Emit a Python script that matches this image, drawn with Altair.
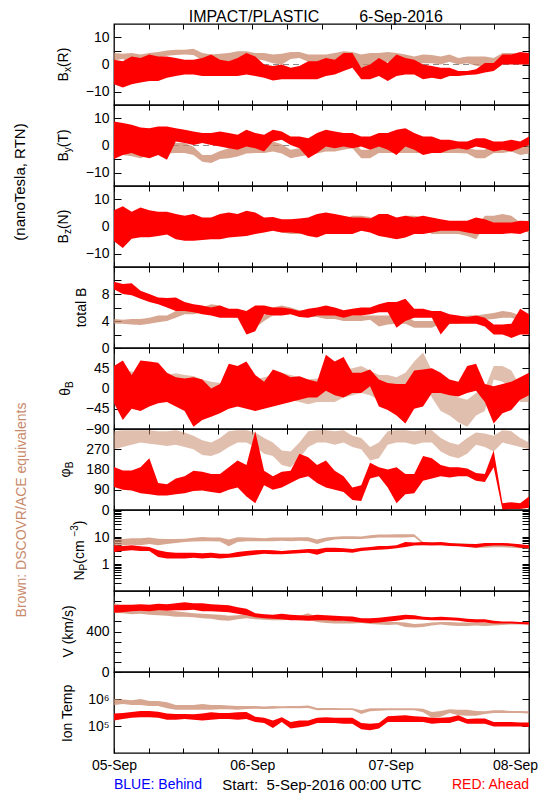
import altair as alt
import pandas as pd

# ---------------- data (per 1.5-hour bin: low / high envelope) ----------------
N_BINS = 48
HOURS = 72

bx_red_lo = [-7.3,-8.5,-7.3,-6.7,-6.1,-6.1,-4.9,-4.3,-3.7,-3.7,-4.3,-4.3,-4.3,-4.3,-4.3,-3.7,-4.3,-4.9,-5.9,-5.5,-5.5,-5.5,-5.5,-5.5,-4.3,-3.7,-2.4,-1.2,-5.5,-5.5,-4.3,-6.1,-4.3,-3.7,-3.7,-5.5,-4.9,-5.5,-4.3,-4.3,-3.9,-3.7,-3.0,-2.4,0.0,0.0,0.0,0.0]
bx_red_hi = [1.8,1.2,3.0,2.4,3.7,3.0,3.0,2.4,1.8,1.8,2.4,3.7,1.8,1.2,2.4,4.3,3.0,0.0,-0.6,0.0,-1.2,-0.6,1.2,1.2,2.4,1.8,4.3,4.3,-1.2,0.0,2.4,0.6,3.7,2.4,1.8,0.0,-0.6,-1.2,-1.2,-2.4,-2.4,-1.8,0.6,0.6,3.7,3.7,4.6,4.3]
bx_br_lo = [1.5,2.0,0.5,0.0,1.0,2.5,3.2,3.5,3.7,3.5,1.5,0.0,0.5,1.0,2.0,2.4,2.0,1.5,0.5,0.0,2.0,2.4,1.0,-0.5,0.0,1.5,2.4,2.4,-1.0,-2.0,0.0,1.0,0.5,0.0,0.0,0.5,0.5,0.0,1.0,0.0,0.5,-0.5,-1.0,0.0,2.4,2.4,1.5,0.5]
bx_br_hi = [4.3,4.0,4.3,3.7,4.3,4.6,5.2,5.5,5.5,5.8,4.3,3.7,4.0,4.3,4.9,4.9,4.3,4.3,3.7,4.0,4.6,4.6,3.7,3.7,3.7,4.3,4.9,4.6,3.7,4.3,4.3,4.6,4.3,3.7,3.0,3.7,3.5,3.0,3.7,2.4,3.0,3.0,3.0,2.4,4.3,4.3,4.0,3.0]

by_red_lo = [-5.0,-3.5,-2.8,-4.0,-4.7,-3.5,-5.3,1.5,0.9,0.2,0.9,0.2,-0.4,-1.0,-1.6,-0.4,-1.0,-2.2,1.5,2.1,0.2,-1.0,-4.7,-2.8,-0.4,-1.0,-0.4,-1.0,-0.4,-1.6,-0.4,-1.6,-3.5,-0.4,-1.6,-3.5,-2.8,-2.8,-1.6,-1.0,-1.6,-0.4,-1.0,-2.2,-1.6,-2.2,-1.0,0.2]
by_red_hi = [8.9,8.3,7.7,6.7,6.4,7.0,7.0,6.4,5.8,5.2,4.6,4.6,5.2,4.6,4.0,5.8,4.6,4.0,5.8,5.2,3.3,3.3,2.7,4.6,5.8,5.2,4.6,4.6,3.3,3.3,4.6,4.6,5.8,6.4,4.6,3.3,3.3,2.1,2.1,1.5,1.5,2.7,2.7,1.5,1.5,2.1,1.5,3.3]
by_br_lo = [-3.5,-3.5,-4.0,-4.7,-3.5,-3.0,-3.0,-2.8,-2.8,-3.5,-6.0,-6.5,-5.0,-4.7,-4.1,-3.0,-2.8,-2.8,-2.2,-3.0,-4.7,-4.1,-3.5,-3.0,-2.2,-2.2,-1.6,-1.0,-4.7,-4.7,-2.8,-2.8,-2.8,-2.8,-2.8,-2.8,-2.8,-2.8,-2.8,-2.8,-3.0,-4.7,-4.7,-2.8,-2.8,-2.2,-3.5,-3.0]
by_br_hi = [0.2,0.5,1.0,1.5,0.5,0.2,0.2,0.9,0.9,-0.5,-3.5,-3.5,-2.0,-1.0,-1.0,0.2,0.5,1.0,1.5,0.5,-1.6,-1.0,-1.0,-0.5,0.5,0.9,1.2,1.5,-1.6,-1.6,0.2,0.2,0.5,0.2,0.2,-0.4,-0.4,-0.4,-0.4,-0.4,-1.0,-1.6,-1.6,0.2,0.2,0.2,-1.0,0.0]

bz_red_lo = [-5.5,-8.0,-4.5,-4.0,-4.0,-3.5,-3.0,-4.7,-5.3,-5.3,-5.0,-4.7,-4.7,-4.1,-3.8,-3.5,-2.8,-2.2,-1.6,-2.2,-2.2,-2.5,-3.5,-4.1,-2.8,-2.8,-2.8,-2.8,-1.6,-2.2,-3.5,-4.1,-4.7,-4.1,-2.8,-2.8,-2.2,-1.6,-1.6,-1.6,-2.2,-2.8,-2.8,-2.8,-2.8,-2.5,-2.8,-1.6]
bz_red_hi = [6.0,7.5,5.5,7.0,6.0,5.5,5.5,4.6,4.0,4.6,3.3,3.3,4.6,5.2,4.6,5.8,5.2,3.3,3.5,2.7,2.7,3.0,3.3,4.6,5.2,4.6,4.0,3.3,3.3,3.0,4.6,4.6,3.3,4.0,3.3,4.0,3.3,2.7,2.1,2.1,2.1,3.3,2.7,1.5,1.5,1.5,2.1,2.0]
bz_br_lo = [-2.0,-2.2,-2.0,-1.5,-1.6,-1.0,-0.5,-0.4,-0.4,-0.4,-0.8,-1.6,-1.6,-1.6,-1.0,-1.0,-0.5,-0.8,-1.6,-2.2,-2.8,-2.8,-2.2,-1.6,-1.6,-1.6,-0.5,0.2,0.2,0.2,-2.8,-2.8,-2.5,0.2,0.2,-0.5,-2.8,-2.8,-2.8,-2.8,-3.5,-4.7,0.2,0.2,0.2,0.2,-1.6,-2.2]
bz_br_hi = [2.0,1.5,2.0,1.5,2.7,3.0,3.5,4.0,4.0,3.5,3.0,2.1,2.1,1.5,2.1,3.3,3.3,2.7,2.1,1.0,0.9,0.9,1.5,2.1,2.1,2.1,2.7,4.0,4.0,3.5,0.9,0.9,0.5,4.0,4.0,3.3,0.9,0.9,0.5,0.9,-0.2,-0.4,4.0,4.0,4.6,4.0,1.5,1.0]

bt_red_lo = [8.7,8.0,7.8,7.3,6.8,6.5,6.0,5.5,5.5,5.3,5.0,4.8,4.5,4.5,4.5,2.0,2.5,5.0,4.8,4.8,5.0,4.6,4.5,4.8,4.8,4.8,4.5,4.8,4.8,5.0,5.3,5.3,3.0,4.0,4.5,4.5,4.5,2.0,3.6,3.6,3.6,3.6,3.2,2.0,2.0,1.5,2.0,2.0]
bt_red_hi = [9.8,9.5,9.6,8.5,8.0,7.5,7.4,7.5,6.8,6.5,6.3,6.0,6.3,5.8,5.8,5.5,6.3,6.3,6.0,6.0,5.8,5.5,5.8,6.0,6.3,6.0,5.6,5.8,6.0,6.0,6.5,6.8,6.8,7.3,5.8,5.8,5.5,5.5,5.0,4.8,4.6,4.8,4.5,3.5,3.5,3.6,5.8,5.0]
bt_br_lo = [3.6,3.6,3.5,3.4,3.6,3.8,4.0,4.5,5.0,5.0,5.3,5.5,5.5,4.6,4.5,4.3,3.0,4.0,4.8,5.3,5.3,4.8,4.6,4.6,4.3,4.3,4.0,4.0,4.0,4.2,3.2,3.5,3.6,3.6,3.0,3.0,3.0,3.6,3.6,3.6,4.0,4.0,4.2,4.3,4.5,4.5,4.0,4.0]
bt_br_hi = [4.3,4.2,4.3,4.3,4.5,4.8,4.8,5.5,5.8,5.8,6.0,6.5,6.3,5.6,5.5,5.0,4.8,4.8,6.0,6.3,6.0,5.6,5.5,5.5,5.0,5.0,4.8,4.8,4.8,4.8,4.8,4.8,4.8,4.8,4.0,4.0,4.0,4.5,4.6,4.6,4.8,4.8,5.0,5.2,5.5,5.3,4.8,4.8]

th_red_lo = [-33,-70,-45,-50,-40,-33,-30,-40,-50,-85,-70,-63,-55,-45,-40,-45,-50,-45,-40,-35,-30,-25,-20,-20,-5,-15,-20,-10,-10,5,-40,-48,-60,-78,-45,-40,-10,-10,-15,-18,-10,-5,-30,-78,-55,-48,-25,-15]
th_red_hi = [50,62,30,62,60,57,35,25,22,25,20,0,10,55,50,60,30,15,42,35,25,27,20,15,75,60,70,35,35,42,20,12,10,10,40,42,45,35,20,15,50,55,10,5,10,15,25,35]
th_br_lo = [-18,-15,-10,-8,-10,-12,-15,-20,-25,-25,-30,-35,-40,-40,-30,-25,-18,-20,-25,-25,-25,-30,-35,-30,-30,-30,-20,-15,-10,-15,-25,-25,-25,-20,10,20,-20,-50,-60,-75,-85,-60,-50,20,15,5,-30,-30]
th_br_hi = [42,40,38,35,34,35,30,34,30,28,20,15,12,10,15,20,20,25,30,35,30,25,20,22,25,20,40,45,50,40,30,30,25,35,60,80,40,0,-10,-20,-25,-10,0,50,50,40,5,10]

ph_red_lo = [102,90,87,75,70,65,65,70,75,85,87,80,75,90,100,60,30,110,90,100,120,140,150,120,100,90,80,45,40,140,150,100,30,70,75,130,140,150,145,150,150,130,125,190,0,5,5,10]
ph_red_hi = [191,176,176,190,230,120,115,140,150,175,170,160,160,190,220,200,350,175,150,170,175,250,235,200,220,175,150,100,110,210,190,180,190,160,160,240,230,200,190,190,185,165,160,265,30,35,30,60]
ph_br_lo = [270,280,290,300,295,290,285,290,280,270,245,240,255,280,300,300,280,250,240,200,190,230,280,300,300,290,300,280,270,220,230,290,300,300,290,300,300,260,240,230,250,290,280,260,300,290,280,270]
ph_br_hi = [350,355,355,355,355,350,350,355,345,330,310,300,320,350,355,355,345,320,300,265,260,300,350,355,355,350,355,330,320,280,300,350,355,355,350,355,355,320,300,290,320,345,340,330,355,350,320,300]

np_red_lo = [2.8,3.0,3.2,3.0,3.0,1.8,1.6,1.6,1.6,1.7,1.6,1.7,1.6,1.7,1.8,2.0,2.2,2.4,2.3,2.3,2.4,2.5,2.6,2.2,2.8,2.8,2.8,2.6,3.0,3.2,3.4,3.5,3.8,4.3,4.8,5.0,4.8,5.0,4.6,4.5,4.3,4.0,4.5,4.8,4.8,4.6,4.0,3.8]
np_red_hi = [4.9,4.6,4.9,4.5,4.3,3.2,2.8,2.6,2.6,2.6,2.5,2.6,2.4,2.4,2.8,3.0,3.2,3.3,3.2,3.0,3.2,3.4,3.6,3.5,4.0,4.0,3.8,3.6,4.0,4.3,4.6,4.6,5.0,6.5,6.2,6.5,6.3,6.5,6.0,5.6,5.5,5.5,6.0,6.0,6.0,5.8,5.4,5.0]
np_br_lo = [4.5,5.0,5.2,5.0,5.5,5.0,5.5,6.0,6.5,6.8,7.0,7.0,6.8,4.5,6.5,7.0,7.0,7.0,7.0,7.2,7.0,7.2,7.0,5.5,7.0,8.0,8.5,8.5,8.5,9.0,9.5,9.5,9.5,9.5,10.0,5.5,5.2,5.0,5.0,4.8,4.5,4.0,4.0,4.2,4.2,4.0,3.8,3.6]
np_br_hi = [8.0,8.5,9.0,9.0,9.5,8.7,8.5,8.5,8.7,9.4,10.0,9.5,9.5,8.0,9.8,9.6,9.4,9.0,9.5,9.6,9.5,9.8,9.8,8.0,9.5,10.2,10.6,10.6,10.5,11.5,12.5,12.5,12.7,12.7,12.7,6.5,6.5,6.3,6.0,6.0,5.8,5.5,5.5,5.5,5.5,5.2,5.0,4.8]

v_red_lo = [585,590,600,605,600,610,605,610,610,615,600,600,595,590,575,560,540,530,525,520,510,510,505,510,510,505,505,500,490,485,490,500,505,520,520,515,510,510,510,505,495,490,490,480,480,478,475,470]
v_red_hi = [660,665,665,670,665,675,670,680,690,680,680,670,665,660,640,625,580,570,565,575,565,560,555,565,560,555,550,548,530,530,535,545,555,565,560,545,540,545,540,535,525,520,520,505,500,498,495,492]
v_br_lo = [585,580,570,575,565,560,555,545,545,540,530,525,510,505,520,530,520,515,510,510,515,510,515,495,485,480,480,480,485,475,470,465,470,445,440,445,460,470,460,455,455,460,455,460,465,470,470,470]
v_br_hi = [680,660,650,645,620,610,605,600,590,580,575,570,565,555,560,575,570,565,560,560,555,555,580,540,525,515,510,505,515,505,505,500,495,490,475,480,490,495,495,490,490,490,485,490,490,490,490,490]

tp_red_lo = [1.6e5,1.8e5,2.0e5,2.1e5,2.1e5,2.0e5,1.7e5,1.7e5,1.8e5,1.7e5,1.6e5,1.7e5,1.8e5,1.8e5,1.7e5,1.8e5,1.4e5,1.3e5,8.5e4,1.4e5,8.0e4,9.0e4,1.0e5,1.3e5,1.3e5,1.3e5,1.2e5,1.2e5,7.5e4,7.0e4,8.0e4,1.4e5,1.4e5,1.4e5,1.4e5,1.4e5,1.2e5,1.3e5,1.3e5,1.6e5,1.2e5,1.2e5,1.2e5,9.5e4,9.5e4,9.5e4,9.5e4,9.2e4]
tp_red_hi = [2.9e5,3.0e5,3.3e5,3.6e5,3.6e5,3.4e5,2.9e5,2.8e5,2.8e5,2.7e5,2.9e5,3.2e5,3.0e5,3.0e5,3.2e5,3.3e5,2.2e5,2.0e5,1.6e5,2.1e5,1.4e5,1.6e5,1.6e5,2.0e5,2.1e5,2.0e5,2.0e5,2.0e5,1.3e5,1.2e5,1.3e5,2.3e5,2.4e5,2.5e5,2.3e5,2.2e5,2.0e5,2.0e5,2.1e5,2.5e5,1.8e5,1.9e5,1.9e5,1.4e5,1.4e5,1.4e5,1.35e5,1.35e5]
tp_br_lo = [6.0e5,6.5e5,6.0e5,6.0e5,5.5e5,5.5e5,4.5e5,4.0e5,4.0e5,4.0e5,4.0e5,4.0e5,4.2e5,4.2e5,4.0e5,4.3e5,4.4e5,4.3e5,4.4e5,4.5e5,4.5e5,4.5e5,4.6e5,3.8e5,3.9e5,3.9e5,3.9e5,3.9e5,2.8e5,3.5e5,3.7e5,3.8e5,3.8e5,3.8e5,3.8e5,3.2e5,2.0e5,2.2e5,3.0e5,2.5e5,2.4e5,2.4e5,2.8e5,3.0e5,3.0e5,3.0e5,3.0e5,2.9e5]
tp_br_hi = [1.0e6,9.5e5,9.0e5,1.0e6,8.5e5,8.5e5,7.5e5,6.0e5,6.0e5,6.0e5,6.5e5,6.0e5,6.0e5,5.8e5,5.5e5,5.5e5,5.5e5,5.3e5,5.5e5,5.4e5,5.5e5,5.5e5,5.8e5,4.6e5,4.6e5,4.6e5,4.5e5,4.5e5,3.8e5,4.5e5,4.5e5,4.5e5,4.5e5,4.5e5,4.5e5,4.4e5,3.3e5,3.6e5,4.2e5,4.0e5,4.0e5,3.6e5,3.5e5,3.8e5,3.8e5,3.6e5,3.6e5,3.5e5]

x_tick_hours = list(range(0, 73, 6))
day_labels = {0: "05-Sep", 24: "06-Sep", 48: "07-Sep", 72: "08-Sep"}

# ---------------- styling ----------------
RED = "#ff0000"
BROWN = "#c98a6c"
BLUE = "#0000ff"
FONT = "Liberation Sans"
PW, PH = 415, 81
ONE = pd.DataFrame({"k": [0]})

CW = {" ": 0.278, "\u00a0": 0.278, "(": 0.333, ")": 0.333, "/": 0.278, "B": 0.667, "R": 0.722,
      "T": 0.611, "N": 0.722, "P": 0.667, "V": 0.667, "I": 0.278, "x": 0.5, "y": 0.5, "z": 0.5,
      "t": 0.278, "o": 0.556, "a": 0.556, "l": 0.222, "c": 0.5, "m": 0.833, "k": 0.5, "s": 0.5,
      "n": 0.556, "e": 0.556, "p": 0.556, "\u2212": 0.584, "3": 0.556, "\u03b8": 0.556, "\u03c6": 0.65}


def tw(s, size):
    return sum(CW.get(c, 0.556) for c in s) * size


def band(name, lo, hi):
    if len(lo) != N_BINS or len(hi) != N_BINS:
        raise ValueError(f"{name}: lengths {len(lo)} {len(hi)}")
    t = [HOURS * i / (N_BINS - 1) for i in range(N_BINS)]
    return pd.DataFrame({"t": t, "lo": lo, "hi": hi})


def txt(text, x, y, size=14, color="black", angle=0, align="center", baseline="middle"):
    return alt.Chart(ONE).mark_text(
        text=text, font=FONT, fontSize=size, color=color, angle=angle, align=align, baseline=baseline
    ).encode(x=alt.value(x), y=alt.value(y))


def vtitle(pieces, cx, cy=PH / 2, color="black"):
    sizes = {"n": 14, "sub": 10, "sup": 10}
    shift = {"n": 0, "sub": 3, "sup": -6}
    total = sum(tw(t, sizes[k]) for t, k in pieces)
    y = cy + total / 2
    xb = cx + 5
    out = []
    for t, k in pieces:
        out.append(txt(t, xb + shift[k], y, size=sizes[k], color=color, angle=270,
                       align="left", baseline="alphabetic"))
        y -= tw(t, sizes[k])
    return out


XLAB = " : ".join(f"datum.value == {h} ? '{s}'" for h, s in day_labels.items()) + " : ''"


def xaxis(orient, labels):
    return alt.Axis(orient=orient, values=x_tick_hours, title=None, grid=False, domain=False,
                    ticks=True, tickSize=5, offset=-5, tickColor="black", tickWidth=1,
                    labels=labels, labelExpr=XLAB, labelFlush=False, labelOverlap=False,
                    labelOffset={"condition": {"test": "datum.value == 72", "value": -14}, "value": 0},
                    labelFont=FONT, labelFontSize=14, labelColor="black", labelPadding=5,
                    minExtent=0)


def yaxis(orient, values, expr, labels):
    return alt.Axis(orient=orient, values=values, title=None, grid=False, domain=False,
                    ticks=True, tickSize=7, offset=-7, tickColor="black", tickWidth=1,
                    labels=labels, labelExpr=expr, labelOverlap=False, labelFlush=False,
                    labelFont=FONT, labelFontSize=14, labelColor="black", labelPadding=5,
                    labelBaseline="middle", minExtent=0)


def panel(name, red, brown, domain, stype, yvals, yexpr, decor, bottom=False, zero=False,
          brown_opacity=0.75):
    xs = alt.Scale(domain=[0, HOURS], nice=False, zero=False)
    if stype == "log":
        ys = alt.Scale(type="log", domain=domain, nice=False)
    else:
        ys = alt.Scale(domain=domain, nice=False, zero=False)
    layers = []
    if zero:
        layers.append(alt.Chart(pd.DataFrame({"z": [0]})).mark_rule(
            color="#8c8c8c", strokeDash=[6, 4], strokeWidth=1
        ).encode(y=alt.Y("z:Q", scale=ys, axis=None)))
    layers.append(alt.Chart(band(name + " brown", *brown)).mark_area(
        color=BROWN, opacity=brown_opacity, clip=True
    ).encode(
        x=alt.X("t:Q", scale=xs, axis=xaxis("bottom", bottom)),
        y=alt.Y("lo:Q", scale=ys, axis=yaxis("left", yvals, yexpr, True)),
        y2="hi:Q",
    ))
    layers.append(alt.Chart(band(name + " red", *red)).mark_area(
        color=RED, opacity=1, clip=True
    ).encode(
        x=alt.X("t:Q", scale=xs, axis=xaxis("top", False)),
        y=alt.Y("lo:Q", scale=ys, axis=yaxis("right", yvals, yexpr, False)),
        y2="hi:Q",
    ))
    layers += decor
    return alt.layer(*layers).resolve_axis(x="independent", y="independent").properties(
        width=PW, height=PH)


B_EXPR = "datum.value % 10 == 0 ? format(datum.value, 'd') : ''"

p_bx = panel("bx", (bx_red_lo, bx_red_hi), (bx_br_lo, bx_br_hi), [-15, 15], "linear",
             [-10, -5, 0, 5, 10], B_EXPR,
             vtitle([("B", "n"), ("x", "sub"), ("(R)", "n")], -51)
             + [txt("IMPACT/PLASTIC", 140, -2, size=16, baseline="alphabetic"),
                txt("6-Sep-2016", 287, -2, size=16, baseline="alphabetic")],
             zero=True)
p_by = panel("by", (by_red_lo, by_red_hi), (by_br_lo, by_br_hi), [-15, 15], "linear",
             [-10, -5, 0, 5, 10], B_EXPR,
             vtitle([("B", "n"), ("y", "sub"), ("(T)", "n")], -51)
             + [txt("(nanoTesla, RTN)", -94, 77, size=15, angle=270)],
             zero=True)
p_bz = panel("bz", (bz_red_lo, bz_red_hi), (bz_br_lo, bz_br_hi), [-15, 15], "linear",
             [-10, -5, 0, 5, 10], B_EXPR,
             vtitle([("B", "n"), ("z", "sub"), ("(N)", "n")], -51), zero=True)
p_bt = panel("bt", (bt_red_lo, bt_red_hi), (bt_br_lo, bt_br_hi), [0, 12], "linear",
             [0, 2, 4, 6, 8, 10], "datum.value % 4 == 0 ? format(datum.value, 'd') : ''",
             vtitle([("total B", "n")], -33))
p_th = panel("th", (th_red_lo, th_red_hi), (th_br_lo, th_br_hi), [-90, 90], "linear",
             [-90, -45, 0, 45], "format(datum.value, 'd')",
             vtitle([("\u03b8", "n"), ("B", "sub")], -49), brown_opacity=0.55)
p_ph = panel("ph", (ph_red_lo, ph_red_hi), (ph_br_lo, ph_br_hi), [0, 360], "linear",
             [0, 90, 180, 270], "format(datum.value, 'd')",
             vtitle([("\u03c6", "n"), ("B", "sub")], -49), brown_opacity=0.55)
np_ticks = [0.2, 0.3, 0.4, 0.5, 0.6, 0.7, 0.8, 0.9, 1, 2, 3, 4, 5, 6, 7, 8, 9, 10,
            20, 30, 40, 50, 60, 70, 80, 90]
p_np = panel("np", (np_red_lo, np_red_hi), (np_br_lo, np_br_hi), [0.1, 100], "log",
             np_ticks, "datum.value == 1 ? '1' : datum.value == 10 ? '10' : ''",
             vtitle([("N", "n"), ("P", "sub"), ("\u00a0(cm", "n"), ("\u22123", "sup"), (")", "n")], -35)
             + [txt("Brown: DSCOVR/ACE equivalents", -92, 0, color=BROWN, angle=270)])
p_v = panel("v", (v_red_lo, v_red_hi), (v_br_lo, v_br_hi), [0, 800], "linear",
            [0, 100, 200, 300, 400, 500, 600, 700],
            "datum.value == 0 || datum.value == 400 ? format(datum.value, 'd') : ''",
            vtitle([("V (km/s)", "n")], -46))
p_tp = panel("tp", (tp_red_lo, tp_red_hi), (tp_br_lo, tp_br_hi), [1e4, 1e7], "log",
             [1e5, 1e6], "datum.value == 100000 ? '10\u2075' : datum.value == 1000000 ? '10\u2076' : ''",
             vtitle([("Ion Temp", "n")], -47)
             + [txt("BLUE: Behind", 0, 113, color=BLUE, align="left"),
                txt("Start:\u00a0\u00a05-Sep-2016 00:00 UTC", 208, 113, size=15, align="center"),
                txt("RED: Ahead", PW, 113, color=RED, align="right")],
             bottom=True)

chart = alt.vconcat(p_bx, p_by, p_bz, p_bt, p_th, p_ph, p_np, p_v, p_tp,
                    spacing=0, bounds="flush").properties(
    padding={"left": 4, "top": 0, "right": 0, "bottom": 0}
).configure(font=FONT).configure_view(stroke="black", strokeWidth=1.3)

chart.save("out.html", embed_options={"renderer": "svg", "actions": False})
